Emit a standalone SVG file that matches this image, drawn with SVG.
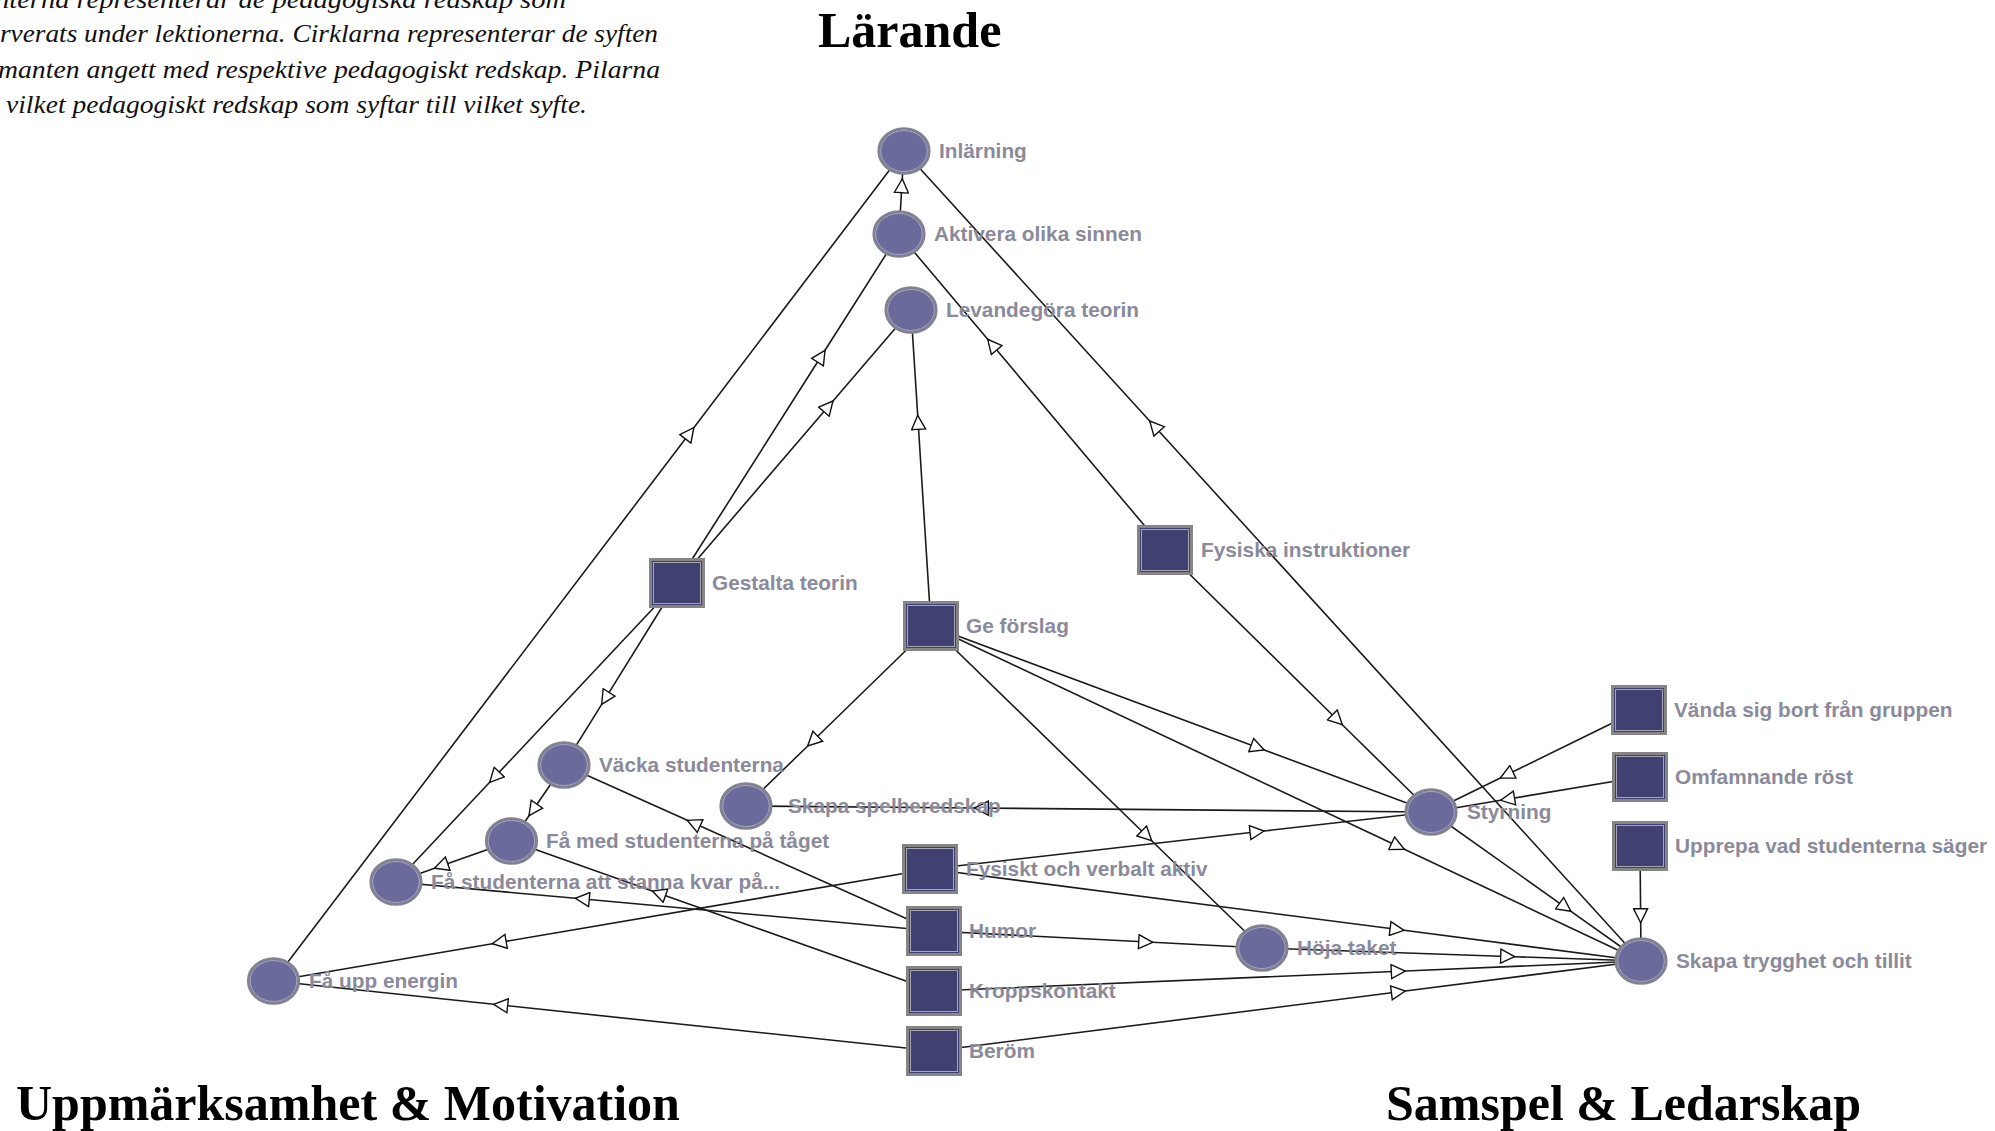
<svg xmlns="http://www.w3.org/2000/svg" width="1995" height="1131" viewBox="0 0 1995 1131">
<defs>
<style>
.cap{font-family:"Liberation Serif","Times New Roman",serif;font-style:italic;font-size:25px;fill:#111;}
.title{font-family:"Liberation Serif","Times New Roman",serif;font-weight:bold;font-size:50px;fill:#000;}
.lbl{font-family:"Liberation Sans",Arial,sans-serif;font-weight:bold;font-size:20.8px;fill:#8a8a9a;}
.edge{fill:none;stroke:#1a1a1a;stroke-width:1.6;marker-mid:url(#arr);}
.circ{fill:#6a6a9b;stroke:#838390;stroke-width:2.6;}
.circ-in{fill:none;stroke:#a9a9c2;stroke-width:1;}
.sq{fill:#414171;stroke:#858585;stroke-width:3;}
.sq-in{fill:none;stroke:#a5a5b5;stroke-width:1;}
</style>
<marker id="arr" viewBox="0 0 16 16" refX="15" refY="8" markerWidth="16" markerHeight="16" markerUnits="userSpaceOnUse" orient="auto">
<path d="M1,1 L15,8 L1,15 z" fill="#fff" stroke="#111" stroke-width="1.4"/>
</marker>
</defs>
<rect x="0" y="0" width="1995" height="1131" fill="#fff"/>

<g id="caption">
<text class="cap" x="-5" y="8" textLength="571" lengthAdjust="spacingAndGlyphs">nterna representerar de pedagogiska redskap som</text>
<text class="cap" x="0" y="42" textLength="658" lengthAdjust="spacingAndGlyphs">rverats under lektionerna. Cirklarna representerar de syften</text>
<text class="cap" x="-2" y="77.5" textLength="662" lengthAdjust="spacingAndGlyphs">manten angett med respektive pedagogiskt redskap. Pilarna</text>
<text class="cap" x="6" y="113" textLength="581" lengthAdjust="spacingAndGlyphs">vilket pedagogiskt redskap som syftar till vilket syfte.</text>
</g>

<g id="titles">
<text class="title" x="818" y="47">Lärande</text>
<text class="title" x="16" y="1120">Uppmärksamhet &amp; Motivation</text>
<text class="title" x="1386" y="1120">Samspel &amp; Ledarskap</text>
</g>

<g id="connectors">
<path class="edge" d="M899,234 L902.3,178.7 L904,151"/>
<path class="edge" d="M677,583 L825,350.3 L899,234"/>
<path class="edge" d="M677,583 L833,401 L911,310"/>
<path class="edge" d="M677,583 L601.7,704.3 L564,765"/>
<path class="edge" d="M677,583 L489.7,782.3 L396,882"/>
<path class="edge" d="M564,765 L529,815.7 L511.5,841"/>
<path class="edge" d="M511.5,841 L434.5,868.3 L396,882"/>
<path class="edge" d="M273.5,981 L693.8,427.7 L904,151"/>
<path class="edge" d="M1641,961 L1149.7,421 L904,151"/>
<path class="edge" d="M1165,550 L987.7,339.3 L899,234"/>
<path class="edge" d="M1165,550 L1342.3,724.7 L1431,812"/>
<path class="edge" d="M931,626 L917.7,415.3 L911,310"/>
<path class="edge" d="M931,626 L807.7,746 L746,806"/>
<path class="edge" d="M931,626 L1264.3,750 L1431,812"/>
<path class="edge" d="M931,626 L1404.3,849.3 L1641,961"/>
<path class="edge" d="M931,626 L1151.7,840.7 L1262,948"/>
<path class="edge" d="M1431,812 L974.3,808 L746,806"/>
<path class="edge" d="M930,869 L1264,831 L1431,812"/>
<path class="edge" d="M1639,710 L1500.3,778 L1431,812"/>
<path class="edge" d="M1640,777 L1500.7,800.3 L1431,812"/>
<path class="edge" d="M1640,846 L1640.7,922.7 L1641,961"/>
<path class="edge" d="M1431,812 L1571,911.3 L1641,961"/>
<path class="edge" d="M930,869 L492.3,943.7 L273.5,981"/>
<path class="edge" d="M930,869 L1404,930.3 L1641,961"/>
<path class="edge" d="M934,931 L687.3,820.3 L564,765"/>
<path class="edge" d="M934,931 L575.3,898.3 L396,882"/>
<path class="edge" d="M934,931 L1152.7,942.3 L1262,948"/>
<path class="edge" d="M1262,948 L1514.7,956.7 L1641,961"/>
<path class="edge" d="M934,991 L652.3,891 L511.5,841"/>
<path class="edge" d="M934,991 L1405.3,971 L1641,961"/>
<path class="edge" d="M934,1051 L493.7,1004.3 L273.5,981"/>
<path class="edge" d="M934,1051 L1405.3,991 L1641,961"/>
</g>

<g id="n-inlarning"><ellipse class="circ" cx="904" cy="151" rx="25.3" ry="22.5"/><ellipse class="circ-in" cx="904" cy="151" rx="23.3" ry="20.5"/><text class="lbl" x="939" y="158">Inlärning</text></g>
<g id="n-aktivera"><ellipse class="circ" cx="899" cy="234" rx="25.3" ry="22.5"/><ellipse class="circ-in" cx="899" cy="234" rx="23.3" ry="20.5"/><text class="lbl" x="934" y="241">Aktivera olika sinnen</text></g>
<g id="n-levandegora"><ellipse class="circ" cx="911" cy="310" rx="25.3" ry="22.5"/><ellipse class="circ-in" cx="911" cy="310" rx="23.3" ry="20.5"/><text class="lbl" x="946" y="317">Levandegöra teorin</text></g>
<g id="n-vacka"><ellipse class="circ" cx="564" cy="765" rx="25.3" ry="22.5"/><ellipse class="circ-in" cx="564" cy="765" rx="23.3" ry="20.5"/><text class="lbl" x="599" y="772">Väcka studenterna</text></g>
<g id="n-spelberedskap"><ellipse class="circ" cx="746" cy="806" rx="25.3" ry="22.5"/><ellipse class="circ-in" cx="746" cy="806" rx="23.3" ry="20.5"/><text class="lbl" x="788" y="813">Skapa spelberedskap</text></g>
<g id="n-famed"><ellipse class="circ" cx="511.5" cy="841" rx="25.3" ry="22.5"/><ellipse class="circ-in" cx="511.5" cy="841" rx="23.3" ry="20.5"/><text class="lbl" x="546" y="848">Få med studenterna på tåget</text></g>
<g id="n-stanna"><ellipse class="circ" cx="396" cy="882" rx="25.3" ry="22.5"/><ellipse class="circ-in" cx="396" cy="882" rx="23.3" ry="20.5"/><text class="lbl" x="431" y="889">Få studenterna att stanna kvar på...</text></g>
<g id="n-energi"><ellipse class="circ" cx="273.5" cy="981" rx="25.3" ry="22.5"/><ellipse class="circ-in" cx="273.5" cy="981" rx="23.3" ry="20.5"/><text class="lbl" x="309" y="988">Få upp energin</text></g>
<g id="n-styrning"><ellipse class="circ" cx="1431" cy="812" rx="25.3" ry="22.5"/><ellipse class="circ-in" cx="1431" cy="812" rx="23.3" ry="20.5"/><text class="lbl" x="1467" y="819">Styrning</text></g>
<g id="n-hoja"><ellipse class="circ" cx="1262" cy="948" rx="25.3" ry="22.5"/><ellipse class="circ-in" cx="1262" cy="948" rx="23.3" ry="20.5"/><text class="lbl" x="1297" y="955">Höja taket</text></g>
<g id="n-trygghet"><ellipse class="circ" cx="1641" cy="961" rx="25.3" ry="22.5"/><ellipse class="circ-in" cx="1641" cy="961" rx="23.3" ry="20.5"/><text class="lbl" x="1676" y="968">Skapa trygghet och tillit</text></g>

<g id="n-gestalta"><rect class="sq" x="650.5" y="559.5" width="53" height="47"/><rect class="sq-in" x="653.5" y="562.5" width="47" height="41"/><text class="lbl" x="712" y="590">Gestalta teorin</text></g>
<g id="n-geforslag"><rect class="sq" x="904.5" y="602.5" width="53" height="47"/><rect class="sq-in" x="907.5" y="605.5" width="47" height="41"/><text class="lbl" x="966" y="633">Ge förslag</text></g>
<g id="n-fysiska"><rect class="sq" x="1138.5" y="526.5" width="53" height="47"/><rect class="sq-in" x="1141.5" y="529.5" width="47" height="41"/><text class="lbl" x="1201" y="557">Fysiska instruktioner</text></g>
<g id="n-vanda"><rect class="sq" x="1612.5" y="686.5" width="53" height="47"/><rect class="sq-in" x="1615.5" y="689.5" width="47" height="41"/><text class="lbl" x="1674" y="717">Vända sig bort från gruppen</text></g>
<g id="n-omfamnande"><rect class="sq" x="1613.5" y="753.5" width="53" height="47"/><rect class="sq-in" x="1616.5" y="756.5" width="47" height="41"/><text class="lbl" x="1675" y="784">Omfamnande röst</text></g>
<g id="n-upprepa"><rect class="sq" x="1613.5" y="822.5" width="53" height="47"/><rect class="sq-in" x="1616.5" y="825.5" width="47" height="41"/><text class="lbl" x="1675" y="853">Upprepa vad studenterna säger</text></g>
<g id="n-fysverbal"><rect class="sq" x="903.5" y="845.5" width="53" height="47"/><rect class="sq-in" x="906.5" y="848.5" width="47" height="41"/><text class="lbl" x="966" y="876">Fysiskt och verbalt aktiv</text></g>
<g id="n-humor"><rect class="sq" x="907.5" y="907.5" width="53" height="47"/><rect class="sq-in" x="910.5" y="910.5" width="47" height="41"/><text class="lbl" x="969" y="938">Humor</text></g>
<g id="n-kropp"><rect class="sq" x="907.5" y="967.5" width="53" height="47"/><rect class="sq-in" x="910.5" y="970.5" width="47" height="41"/><text class="lbl" x="969" y="998">Kroppskontakt</text></g>
<g id="n-berom"><rect class="sq" x="907.5" y="1027.5" width="53" height="47"/><rect class="sq-in" x="910.5" y="1030.5" width="47" height="41"/><text class="lbl" x="969" y="1058">Beröm</text></g>
</svg>
